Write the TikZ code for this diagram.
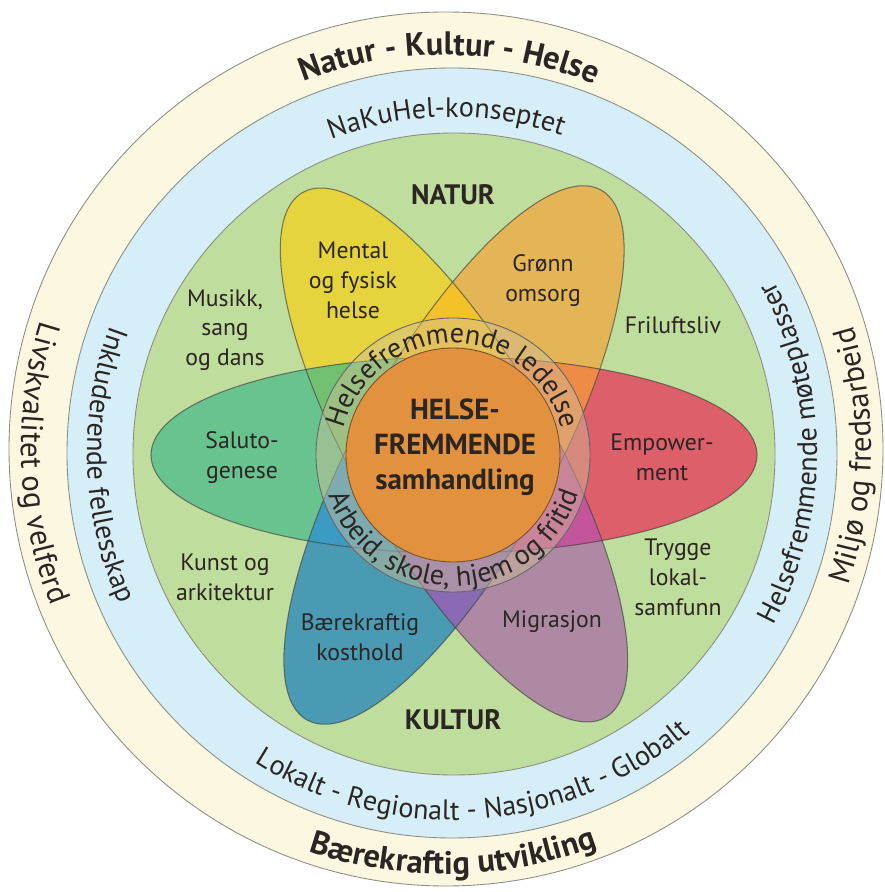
\documentclass[tikz,border=0pt]{standalone}
\usepackage{fontspec}
\setmainfont{PT Sans}
\usetikzlibrary{decorations.text}

\definecolor{creambg}{HTML}{FBF7E0}
\definecolor{bluebg}{HTML}{D6EEF7}
\definecolor{greenbg}{HTML}{BFDD9C}
\definecolor{edgegray}{HTML}{8E8E84}
\definecolor{petYel}{HTML}{E6D43E}
\definecolor{petOra}{HTML}{E3B556}
\definecolor{petRed}{HTML}{DC5F69}
\definecolor{petGrn}{HTML}{69C38F}
\definecolor{petBlu}{HTML}{4B9AB3}
\definecolor{petPur}{HTML}{AE89A3}
\definecolor{ovYO}{HTML}{F3C22B}
\definecolor{ovOR}{HTML}{EE8B47}
\definecolor{ovRP}{HTML}{C3569B}
\definecolor{ovPB}{HTML}{8A6BB3}
\definecolor{ovBG}{HTML}{3C9BC2}
\definecolor{ovGY}{HTML}{72C172}
\definecolor{coreor}{HTML}{E2913F}
\definecolor{ringtan}{HTML}{D0C09A}
\definecolor{txtdark}{HTML}{2B2523}

\tikzset{
  band/.style={draw=edgegray, line width=0.5pt},
  petalline/.style={draw=black!75, draw opacity=0.65, line width=0.6pt},
  lbl/.style={text=txtdark, align=center, font=\fontsize{13.5}{17}\selectfont},
  head/.style={text=txtdark, font=\bfseries\fontsize{16}{19}\selectfont},
  arctext/.style={decorate, decoration={text along path, text align=center, text={#1}}}
}
\newcommand{\petalshape}{(0,-98) arc[start angle=-90, end angle=90, x radius=303, y radius=98] -- cycle}
\newcommand{\bandfont}{\color{txtdark}\fontsize{16}{19}\selectfont}
\newcommand{\outerfont}{\color{txtdark}\fontsize{17.5}{20}\selectfont}
\newcommand{\outerbold}{\color{txtdark}\bfseries\fontsize{18.5}{21}\selectfont}
\newcommand{\ringfont}{\color{txtdark}\fontsize{16}{18}\selectfont}

\begin{document}
\begin{tikzpicture}[x=0.2mm, y=0.2mm]
\useasboundingbox (-452,-441) rectangle (433,451);
\coordinate (Ocream) at (-6, 2);
\coordinate (Oblue) at (0, -2);
\coordinate (Ogreen) at (2, -3);
\coordinate (Opetal) at (2, -4);
\coordinate (Ocore) at (1, -4);

\filldraw[band, fill=creambg] (Ocream) circle[radius=437];
\filldraw[band, fill=bluebg] (Oblue) circle[radius=385];
\filldraw[band, fill=greenbg] (Ogreen) circle[radius=321];

\fill[petYel, shift={(Opetal)}, rotate=120] \petalshape;
\fill[petOra, shift={(Opetal)}, rotate=61] \petalshape;
\fill[petRed, shift={(Opetal)}, rotate=0] \petalshape;
\fill[petPur, shift={(Opetal)}, rotate=300] \petalshape;
\fill[petBlu, shift={(Opetal)}, rotate=241] \petalshape;
\fill[petGrn, shift={(Opetal)}, rotate=180] \petalshape;
\foreach \a/\b/\c in {120/61/ovYO, 61/0/ovOR, 0/300/ovRP, 300/241/ovPB, 241/180/ovBG, 180/120/ovGY} {
  \begin{scope}
    \clip[shift={(Opetal)}, rotate=\a] \petalshape;
    \fill[\c, shift={(Opetal)}, rotate=\b] \petalshape;
  \end{scope}
}
\foreach \a in {0, 61, 120}
  \draw[petalline, shift={(Opetal)}, rotate=\a] (0,0) ellipse[x radius=303, y radius=98];

\filldraw[draw=black!60, line width=0.5pt, fill=ringtan, fill opacity=0.45] (Ocore) circle[radius=137];
\filldraw[draw=black!45!coreor, line width=0.5pt, fill=coreor] (Ocore) circle[radius=107];

% rings of text
\path[arctext={|\outerbold|Natur - Kultur - Helse}] (Ocream) ++(130:394) arc[start angle=130, end angle=49, radius=394];
\path[arctext={|\outerbold|Bærekraftig utvikling}] (Ocream) ++(-130:425) arc[start angle=-130, end angle=-48, radius=425];
\path[arctext={|\outerfont|Livskvalitet og velferd}] (Ocream) ++(135:425) arc[start angle=135, end angle=229, radius=425];
\path[arctext={|\outerfont|Miljø og fredsarbeid}] (Ocream) ++(-45:425) arc[start angle=-45, end angle=43, radius=425];

\path[arctext={|\bandfont|NaKuHel-konseptet}] (Oblue) ++(130:336) arc[start angle=130, end angle=52, radius=336];
\path[arctext={|\bandfont|Lokalt - Regionalt - Nasjonalt - Globalt}] (Oblue) ++(-155:367) arc[start angle=-155, end angle=-17, radius=367];
\path[arctext={|\bandfont|Inkluderende fellesskap}] (Oblue) ++(135:365) arc[start angle=135, end angle=229, radius=365];
\path[arctext={|\bandfont|Helsefremmende møteplasser}] (Oblue) ++(-50:365) arc[start angle=-50, end angle=50, radius=365];

\path[arctext={|\ringfont|Helsefremmende ledelse}] (Ocore) ++(178:112) arc[start angle=178, end angle=2, radius=112];
\path[arctext={|\ringfont|Arbeid, skole, hjem og fritid}] (Ocore) ++(190:131) arc[start angle=190, end angle=351, radius=131];

\node[head] (natur) at (1, 256) {NATUR};
\node[head] (kultur) at (1, -269) {KULTUR};
\node[text=txtdark, align=center, font=\bfseries\fontsize{16.5}{20}\selectfont] (core) at (3, 4) {HELSE-\\FREMMENDE\\samhandling};

\node[lbl] (mental) at (-99, 171) {Mental\\og fysisk\\helse};
\node[lbl] (gronn) at (91, 170) {Grønn\\omsorg};
\node[lbl] (musikk) at (-227, 121) {Musikk,\\sang\\og dans};
\node[lbl] (frilufts) at (221, 126) {Friluftsliv};
\node[lbl] (saluto) at (-210, -7) {Saluto-\\genese};
\node[lbl] (empower) at (210, -6) {Empower-\\ment};
\node[lbl] (kunst) at (-227, -126) {Kunst og\\arkitektur};
\node[lbl] (trygge) at (226, -126) {Trygge\\lokal-\\samfunn};
\node[lbl] (kosthold) at (-92, -186) {Bærekraftig\\kosthold};
\node[lbl] (migrasjon) at (100, -171) {Migrasjon};
\end{tikzpicture}
\end{document}
